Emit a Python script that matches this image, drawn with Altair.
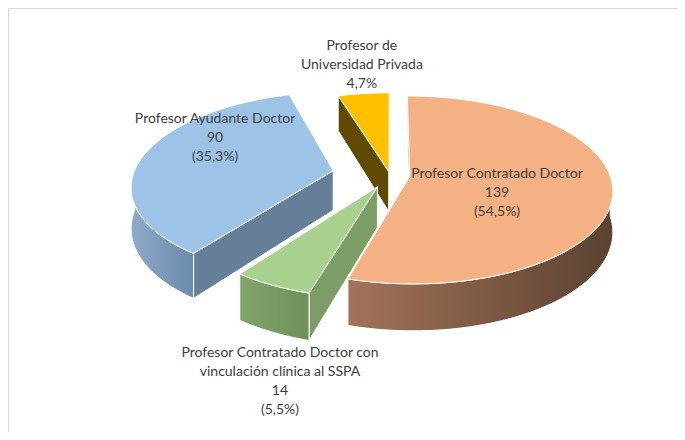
import numpy as np
import pandas as pd
import altair as alt

# ---------------- data ----------------
CATEGORIES = [
    "Profesor Contratado Doctor",
    "Profesor Contratado Doctor con vinculación clínica al SSPA",
    "Profesor Ayudante Doctor",
    "Profesor de Universidad Privada",
]
VALUES = [139, 14, 90, 12]
SHOW_VALUE = [True, True, True, False]
LABEL_LINES = [
    ["Profesor Contratado Doctor"],
    ["Profesor Contratado Doctor con", "vinculación clínica al SSPA"],
    ["Profesor Ayudante Doctor"],
    ["Profesor de", "Universidad Privada"],
]

# ---------------- style ----------------
EXPLODE = [0.10, 0.14, 0.29, 0.032]           # per-slice explosion (fraction of radius)
# label anchor (first text line) in polar form: (angle deg, radius fraction)
LABEL_POLAR = [(88.8, 0.536), (195.8, 1.576), (304.95, 1.171), (354.3, 1.779)]
TOP_COLORS = ["#F4B183", "#A9D18E", "#9DC3E6", "#FFC000"]
WALL_GRAD = [("#A3735A", "#5A4231"), ("#80A56B", "#6E9159"),
             ("#8FAACB", "#6C8AAB"), ("#7F6000", "#7F6000")]
FACE_START = ["#5C4332", "#7C9E66", "#647F97", "#614A00"]
FACE_END = ["#5C4332", "#6E8F59", "#5F7A94", "#7F6000"]
K = 0.145      # perspective strength
S = 0.458      # sine of tilt
T = 0.20       # thickness
W, H = 669, 424
XDOM = [-1.91, 1.435]
YDOM = [-1.285, 0.835]


def proj(X, Z, drop=0.0):
    d = 1.0 + K * Z
    return X / d, (S * Z - drop) / d


total = float(sum(VALUES))
rows = []
polys = []   # (poly id, fill)
starts = np.concatenate([[0], np.cumsum(VALUES)[:-1]]) / total * 360.0
ends = np.cumsum(VALUES) / total * 360.0
cam = np.array([0.0, -1.0 / K])


def add_poly(pid, pts, fill):
    pts = list(pts) + [pts[0]]
    for j, (x, y) in enumerate(pts):
        rows.append({"poly": pid, "i": j, "x": x, "y": y})
    polys.append((pid, fill))


order = []
for s in range(len(VALUES)):
    m = np.radians((starts[s] + ends[s]) / 2)
    ox, oz = EXPLODE[s] * np.sin(m), EXPLODE[s] * np.cos(m)
    order.append((oz, s, ox))
order.sort(reverse=True)

for oz, s, ox in order:
    a0, a1 = starts[s], ends[s]

    def rim(th, drop=0.0):
        t = np.radians(th)
        return proj(ox + np.sin(t), oz + np.cos(t), drop)

    apex_t = proj(ox, oz)
    apex_b = proj(ox, oz, T)
    to_cam = cam - np.array([ox, oz])
    # start radial face
    n0 = np.array([-np.cos(np.radians(a0)), np.sin(np.radians(a0))])
    if to_cam @ n0 > 0:
        add_poly(f"s{s}a", [apex_t, rim(a0), rim(a0, T), apex_b], FACE_START[s])
    n1 = np.array([np.cos(np.radians(a1)), -np.sin(np.radians(a1))])
    if to_cam @ n1 > 0:
        add_poly(f"s{s}b", [apex_t, rim(a1), rim(a1, T), apex_b], FACE_END[s])
    # outer wall (front half)
    w0, w1 = max(a0, 90.0), min(a1, 270.0)
    if w1 > w0:
        th = np.linspace(w0, w1, 60)
        pts = [rim(t) for t in th] + [rim(t, T) for t in th[::-1]]
        grad = alt.Gradient(gradient="linear",
                            stops=[alt.GradientStop(color=WALL_GRAD[s][0], offset=0),
                                   alt.GradientStop(color=WALL_GRAD[s][1], offset=1)],
                            x1=0, x2=1, y1=0, y2=0)
        add_poly(f"s{s}w", pts, grad)
    # top face
    th = np.linspace(a0, a1, max(8, int((a1 - a0) / 2)))
    add_poly(f"s{s}t", [apex_t] + [rim(t) for t in th], TOP_COLORS[s])

df = pd.DataFrame(rows)

xs = alt.Scale(domain=XDOM, nice=False, zero=False)
ys = alt.Scale(domain=YDOM, nice=False, zero=False)

layers = []
for pid, fill in polys:
    layers.append(
        alt.Chart(df)
        .transform_filter(alt.datum.poly == pid)
        .mark_line(fill=fill, stroke="white", strokeWidth=1, strokeJoin="round")
        .encode(x=alt.X("x:Q", scale=xs, axis=None),
                y=alt.Y("y:Q", scale=ys, axis=None),
                order="i:Q")
    )

# labels
lab = []
for s in range(len(VALUES)):
    pct = f"{VALUES[s] / total * 100:.1f}%".replace(".", ",")
    lines = list(LABEL_LINES[s])
    if SHOW_VALUE[s]:
        lines += [str(VALUES[s]), f"({pct})"]
    else:
        lines += [pct]
    a, r = LABEL_POLAR[s]
    lx, ly = proj(r * np.sin(np.radians(a)), r * np.cos(np.radians(a)))
    lab.append({"x": lx, "y": ly, "label": "\n".join(lines)})
ldf = pd.DataFrame(lab)

text = alt.Chart(ldf).mark_text(
    lineBreak="\n", lineHeight=19, font="Lato", fontSize=14,
    color="#404040", align="center", baseline="middle"
).encode(x=alt.X("x:Q", scale=xs, axis=None),
         y=alt.Y("y:Q", scale=ys, axis=None),
         text="label:N")

border_l = alt.Chart(ldf).mark_rule(color="#D9D9D9", strokeWidth=1).encode(
    x=alt.value(0.5), y=alt.value(0), y2=alt.value(H))
border_t = alt.Chart(ldf).mark_rule(color="#D9D9D9", strokeWidth=1).encode(
    x=alt.value(0), x2=alt.value(W), y=alt.value(0.5))

chart = alt.layer(*layers, text, border_l, border_t).properties(
    width=W, height=H, padding=0,
    autosize=alt.AutoSizeParams(type="none")
).configure_view(stroke=None)

chart.save("out.html", embed_options={"renderer": "svg", "actions": False})
